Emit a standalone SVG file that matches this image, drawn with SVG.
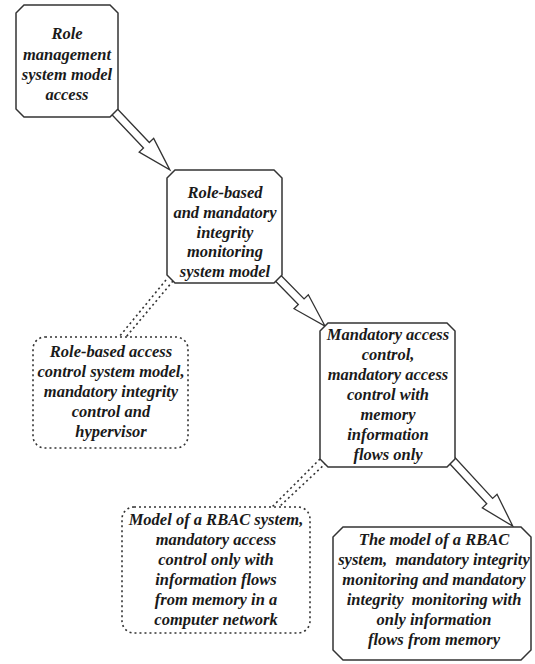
<svg xmlns="http://www.w3.org/2000/svg" width="535" height="664" viewBox="0 0 535 664">
<style>
.node{fill:#fff;stroke:#333;stroke-width:1.5}
.dnode{fill:#fff;stroke:#333;stroke-width:1.6;stroke-dasharray:2 3}
.arrow{fill:#fff;stroke:#333;stroke-width:1.3;stroke-linejoin:miter}
.dot{stroke:#333;stroke-width:1.6;stroke-dasharray:2 3;fill:none}
text{font-family:"Liberation Serif","Times New Roman",serif;font-weight:bold;font-style:italic;font-size:16.5px;fill:#1a1a1a;text-anchor:middle}
.pre{white-space:pre}
</style>
<rect width="535" height="664" fill="#fff"/>
<g id="connectors">
<path class="arrow" transform="translate(112,109) rotate(46.5)" d="M0,-4 L50,-4 L50,-10 L84,0 L50,10 L50,4 L0,4"/>
<path class="arrow" transform="translate(276,276) rotate(45.6)" d="M0,-4 L36,-4 L36,-10 L70,0 L36,10 L36,4 L0,4"/>
<path class="arrow" transform="translate(449,457) rotate(47.3)" d="M0,-4 L60,-4 L60,-10 L94,0 L60,10 L60,4 L0,4"/>
<line class="dot" x1="166" y1="280" x2="119" y2="337"/>
<line class="dot" x1="173" y1="281" x2="126" y2="337"/>
<line class="dot" x1="320" y1="459" x2="272" y2="507"/>
<line class="dot" x1="326" y1="463" x2="279" y2="507"/>
</g>
<g id="n1">
<polygon class="node" points="24,5 110,5 118,13 118,109 110,117 24,117 16,109 16,13"/>
<text x="67" y="39">Role</text>
<text x="67" y="60">management</text>
<text x="67" y="80">system model</text>
<text x="67" y="100">access</text>
</g>
<g id="n2">
<polygon class="node" points="175,170 274,170 282,178 282,275 274,283 175,283 167,275 167,178"/>
<text x="225" y="198">Role-based</text>
<text x="225" y="218">and mandatory</text>
<text x="225" y="238">integrity</text>
<text x="225" y="257">monitoring</text>
<text x="225" y="277">system model</text>
</g>
<g id="n3">
<polygon class="node" points="328,323 447,323 455,331 455,459 447,467 328,467 320,459 320,331"/>
<text x="388" y="340">Mandatory access</text>
<text x="388" y="360">control,</text>
<text x="388" y="380">mandatory access</text>
<text x="388" y="400">control with</text>
<text x="388" y="420">memory</text>
<text x="388" y="440">information</text>
<text x="388" y="460">flows only</text>
</g>
<g id="n4">
<rect class="dnode" x="33" y="337" width="155" height="111" rx="12"/>
<text x="111" y="357">Role-based access</text>
<text x="111" y="377">control system model,</text>
<text x="111" y="397">mandatory integrity</text>
<text x="111" y="417">control and</text>
<text x="111" y="437">hypervisor</text>
</g>
<g id="n5">
<polygon class="node" points="343,527 521,527 531,537 531,650 521,660 343,660 333,650 333,537"/>
<text x="434" y="545">The model of a RBAC</text>
<text class="pre" x="434" y="565" xml:space="preserve">system,  mandatory integrity</text>
<text x="434" y="585">monitoring and mandatory</text>
<text class="pre" x="434" y="605" xml:space="preserve">integrity  monitoring with</text>
<text x="434" y="625">only information</text>
<text x="434" y="645">flows from memory</text>
</g>
<g id="n6">
<rect class="dnode" x="122" y="507" width="188" height="126" rx="12"/>
<text x="216" y="525">Model of a RBAC system,</text>
<text x="216" y="545">mandatory access</text>
<text x="216" y="565">control only with</text>
<text x="216" y="585">information flows</text>
<text x="216" y="605">from memory in a</text>
<text x="216" y="625">computer network</text>
</g>
</svg>
